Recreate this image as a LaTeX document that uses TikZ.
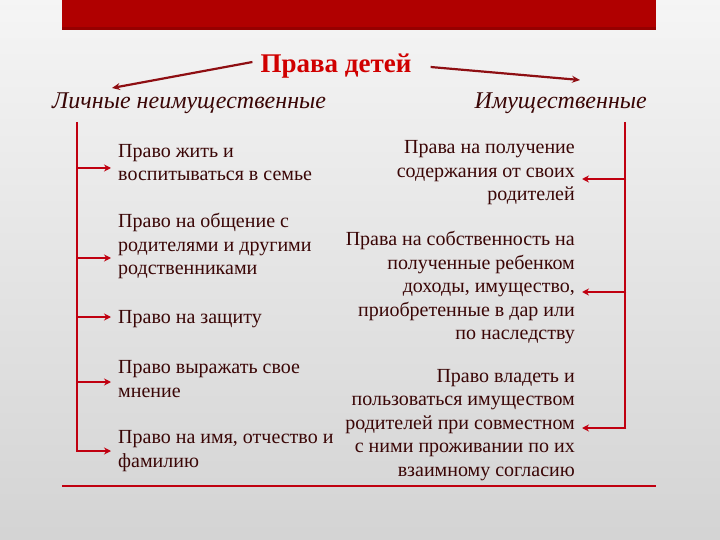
\documentclass[tikz,border=0pt]{standalone}
\usepackage{fontspec}
\setmainfont{Liberation Serif}
\usetikzlibrary{arrows.meta}
\definecolor{barred}{HTML}{B00000}
\definecolor{linered}{HTML}{C00010}
\definecolor{arrred}{HTML}{8E0E12}
\definecolor{titlered}{HTML}{D00000}
\definecolor{txt}{HTML}{3A0606}
\begin{document}
\begin{tikzpicture}[x=1pt,y=-1pt,
  bodytext/.style={inner sep=0pt, text=txt, font=\fontsize{20}{23.5}\selectfont},
  lefttext/.style={bodytext, anchor=west, align=left},
  righttext/.style={bodytext, anchor=east, align=right},
  headtext/.style={inner sep=0pt, text=txt, font=\fontsize{24}{26}\selectfont\itshape},
  vline/.style={linered, line width=2.6pt},
  arr/.style={linered, line width=2.4pt, -{Stealth[length=7pt,width=7pt]}},
  toparr/.style={arrred, line width=2.2pt, -{Stealth[length=8pt,width=7pt]}}]
\useasboundingbox (0,0) rectangle (720,540);
\shade[top color=white!96!black, bottom color=white!83!black] (0,0) rectangle (720,540);
\fill[barred] (62,0) rectangle (656,30);
\fill[barred!85!black] (62,27) rectangle (656,30);
\draw[linered, line width=2pt] (62,486) -- (656,486);

\node[inner sep=0pt, text=titlered, font=\fontsize{27}{28}\selectfont\bfseries] (title) at (336,66) {Права детей};
\node[headtext, anchor=west] (lh) at (52,103) {Личные неимущественные};
\node[headtext, anchor=east] (rh) at (647,103) {Имущественные};
\coordinate (la) at (112,88);
\coordinate (ra) at (580,80);
\draw[toparr] (title.west) ++(-8,-4) coordinate (ts1) -- (la);
\draw[toparr] (title.east) ++(19,1) coordinate (ts2) -- (ra);

% left items
\node[lefttext] (l1) at (118,162.5) {Право жить и\\воспитываться в семье};
\node[lefttext] (l2) at (118,246) {Право на общение с\\родителями и другими\\родственниками};
\node[lefttext] (l3) at (118,319) {Право на защиту};
\node[lefttext] (l4) at (118,379) {Право выражать свое\\мнение};
\node[lefttext] (l5) at (118,451) {Право на имя, отчество и\\фамилию};

\coordinate (lt) at (77,122);
\coordinate (lb) at (77,451);
\draw[vline] (lt) -- (lb);
\foreach \n/\y in {l1/168,l2/258,l3/317,l4/382,l5/451}
  \draw[arr] (76,\y) -- ([xshift=-7pt]\n.west |- 0,\y);

% right items
\node[righttext] (r1) at (575,173) {Права на получение\\содержания от своих\\родителей};
\node[righttext] (r2) at (575,287.5) {Права на собственность на\\полученные ребенком\\доходы, имущество,\\приобретенные в дар или\\по наследству};
\node[righttext] (r3) at (575,425) {Право владеть и\\пользоваться имуществом\\родителей при совместном\\с ними проживании по их\\взаимному согласию};

\coordinate (rt) at (625,122);
\coordinate (rb) at (625,428);
\draw[vline] (rt) -- (rb);
\foreach \n/\y in {r1/179,r2/292,r3/428}
  \draw[arr] (626.3,\y) -- ([xshift=7pt]\n.east |- 0,\y);
\end{tikzpicture}
\end{document}
